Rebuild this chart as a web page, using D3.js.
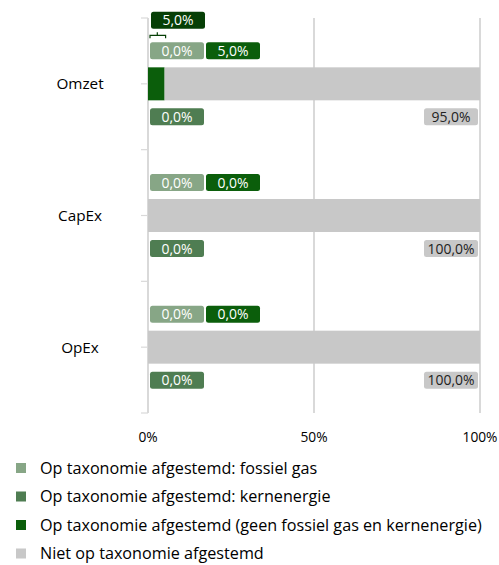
<!DOCTYPE html>
<html><head><meta charset="utf-8">
<script src="https://cdn.jsdelivr.net/npm/d3@7"></script>
<style>body{margin:0;background:#fff}svg{display:block}text{font-family:"Open Sans",Lato,sans-serif}</style>
</head><body><div id="c"></div>
<script>
const categories = ["Omzet","CapEx","OpEx"];
const fossielGas = [0.0, 0.0, 0.0];
const kernenergie = [0.0, 0.0, 0.0];
const geenFossiel = [5.0, 0.0, 0.0];
const nietAfgestemd = [95.0, 100.0, 100.0];
const xTicks = [0, 50, 100];
const legendLabels = [
  "Op taxonomie afgestemd: fossiel gas",
  "Op taxonomie afgestemd: kernenergie",
  "Op taxonomie afgestemd (geen fossiel gas en kernenergie)",
  "Niet op taxonomie afgestemd"
];
const colors = ["#87a686","#4f7d52","#0b5e0b","#c8c8c8"];
const calloutColor = "#063f06";

const W=499,H=565;
const svg=d3.select("#c").append("svg").attr("width",W).attr("height",H);
const x=d3.scaleLinear().domain([0,100]).range([148,480]);
const y=d3.scaleBand().domain(categories).range([18,413]);
const bh=33;
const fmt=v=>v.toFixed(1).replace(".",",")+"%";

// measure helper: font size so that text spans target width
function fitSize(txt,target){
  const t=svg.append("text").attr("font-size",100).text(txt);
  const w=t.node().getComputedTextLength(); t.remove();
  return 100*target/w;
}
const fsLegend=fitSize(legendLabels[2],442);
const fsCat=fitSize("CapEx",44);
const fsLab=fitSize("100,0%",47);
const fsTick=fitSize("100%",35);

// gridlines
svg.append("g").selectAll("line").data(xTicks.filter(d=>d>0)).join("line")
  .attr("x1",d=>x(d)).attr("x2",d=>x(d)).attr("y1",18).attr("y2",413)
  .attr("stroke","#d9d9d9").attr("stroke-width",2);

// left axis
const ax=svg.append("g");
ax.append("line").attr("x1",148).attr("x2",148).attr("y1",18).attr("y2",413).attr("stroke","#d9d9d9").attr("stroke-width",2);
const tickYs=[];
categories.forEach(c=>{tickYs.push(y(c));tickYs.push(y(c)+y.bandwidth()/2);});
tickYs.push(y.range()[1]);
ax.selectAll(".t").data(tickYs).join("line").attr("class","t")
  .attr("x1",141).attr("x2",148).attr("y1",d=>d).attr("y2",d=>d)
  .attr("stroke","#d9d9d9").attr("stroke-width",1.2);

// category labels
svg.append("g").selectAll("text").data(categories).join("text")
  .attr("x",80).attr("y",c=>y(c)+y.bandwidth()/2).attr("dy","0.35em")
  .attr("text-anchor","middle").attr("font-size",fsCat).attr("fill","#000").text(c=>c);

// x tick labels
svg.append("g").selectAll("text").data(xTicks).join("text")
  .attr("x",d=>x(d)).attr("y",437).attr("dy","0.35em").attr("text-anchor","middle")
  .attr("font-size",fsTick).attr("fill","#000").text(d=>d+"%");

// bars (stacked)
const rows=categories.map((c,i)=>{
  const vals=[fossielGas[i],kernenergie[i],geenFossiel[i],nietAfgestemd[i]];
  let acc=0; return vals.map((v,k)=>{const s=acc;acc+=v;return {c,k,v,s,e:acc};});
});
const bars=svg.append("g");
rows.forEach(r=>{
  bars.selectAll(null).data(r.filter(d=>d.v>0)).join("rect")
    .attr("x",d=>x(d.s)).attr("width",d=>x(d.e)-x(d.s))
    .attr("y",d=>y(d.c)+y.bandwidth()/2-bh/2).attr("height",bh)
    .attr("fill",d=>colors[d.k]);
});

// data labels
const lw=54,lh=17;
function label(g,x0,yc,txt,fill,tc){
  g.append("rect").attr("x",x0).attr("y",yc-lh/2).attr("width",lw).attr("height",lh).attr("rx",2.5).attr("fill",fill);
  g.append("text").attr("x",x0+lw/2).attr("y",yc).attr("dy","0.36em").attr("text-anchor","middle")
    .attr("font-size",fsLab).attr("fill",tc).text(txt);
}
const lg=svg.append("g");
categories.forEach((c,i)=>{
  const yc=y(c)+y.bandwidth()/2;
  label(lg,150,yc-33,fmt(fossielGas[i]),colors[0],"#fff");
  label(lg,206,yc-33,fmt(geenFossiel[i]),colors[2],"#fff");
  label(lg,150,yc+33,fmt(kernenergie[i]),colors[1],"#fff");
  label(lg,x(nietAfgestemd[i]+fossielGas[i]+kernenergie[i]+geenFossiel[i])-2-lw,yc+33,fmt(nietAfgestemd[i]),colors[3],"#222");
  if(geenFossiel[i]>0){
    label(lg,151,yc-63.5,fmt(geenFossiel[i]),calloutColor,"#fff");
    const xs=x(fossielGas[i]+kernenergie[i]), xe=x(fossielGas[i]+kernenergie[i]+geenFossiel[i]);
    const by=yc-48.5;
    lg.append("path").attr("d",`M${xs+2},${by+3}V${by}H${xe+1}V${by+3}M${(xs+xe)/2+1},${by}V${by-3}`)
      .attr("fill","none").attr("stroke",calloutColor).attr("stroke-width",1.2);
  }
});

// legend
const leg=svg.append("g");
legendLabels.forEach((t,i)=>{
  const yy=468+i*28.5;
  leg.append("rect").attr("x",16).attr("y",yy-5).attr("width",10).attr("height",10).attr("fill",colors[i]);
  leg.append("text").attr("x",40).attr("y",yy).attr("dy","0.35em").attr("font-size",fsLegend).attr("fill","#000").text(t);
});
</script></body></html>
